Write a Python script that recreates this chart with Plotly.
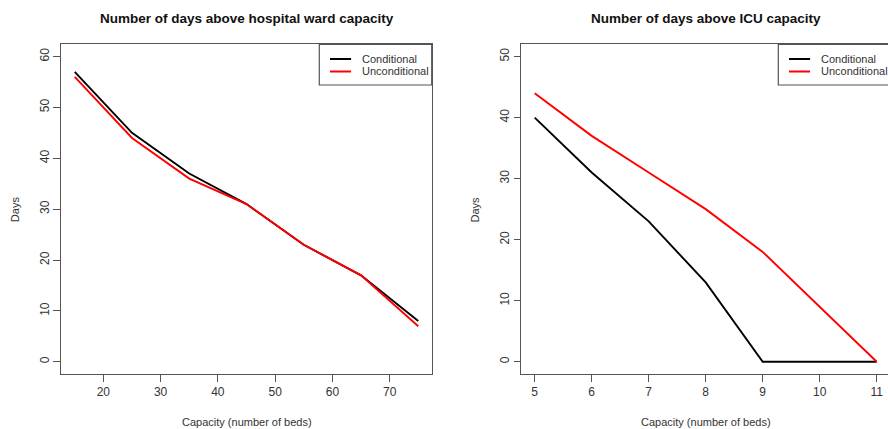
import plotly.graph_objects as go

# Hospital ward: days above capacity versus number of beds
ward_beds = [15, 25, 35, 45, 55, 65, 75]
ward_conditional = [57, 45, 37, 31, 23, 17, 8]
ward_unconditional = [56, 44, 36, 31, 23, 17, 7]

# ICU: days above capacity versus number of beds
icu_beds = [5, 6, 7, 8, 9, 10, 11]
icu_conditional = [40, 31, 23, 13, 0, 0, 0]
icu_unconditional = [44, 37, 31, 25, 18, 9, 0]

ward_xticks = [20, 30, 40, 50, 60, 70]
ward_yticks = [0, 10, 20, 30, 40, 50, 60]
icu_xticks = [5, 6, 7, 8, 9, 10, 11]
icu_yticks = [0, 10, 20, 30, 40, 50]

series_names = ["Conditional", "Unconditional"]
series_colors = ["#000000", "#ff0000"]

W, H = 888, 429
FONT = "Liberation Sans, Arial, sans-serif"
AXIS_COL = "#555555"
TEXT_COL = "#333333"


def px(x):
    return x / W


def py(y):
    return 1 - y / H


fig = go.Figure()

for xs, ys_list, xa, ya in [
    (ward_beds, [ward_conditional, ward_unconditional], "x", "y"),
    (icu_beds, [icu_conditional, icu_unconditional], "x2", "y2"),
]:
    for name, ys, col in zip(series_names, ys_list, series_colors):
        fig.add_trace(go.Scatter(
            x=xs, y=ys, mode="lines", name=name,
            line=dict(color=col, width=1.9),
            xaxis=xa, yaxis=ya, showlegend=False,
        ))

top, bottom = 44.3, 374
ydom = [py(bottom), py(top)]

axis_common = dict(
    showgrid=False, zeroline=False, showline=True, linecolor=AXIS_COL,
    linewidth=1.2, ticks="outside", ticklen=6.5, tickcolor=AXIS_COL,
    tickwidth=1, tickfont=dict(family=FONT, size=12, color=TEXT_COL),
)

fig.update_layout(
    width=W, height=H,
    margin=dict(l=0, r=0, t=0, b=0),
    plot_bgcolor="white", paper_bgcolor="white",
    xaxis=dict(domain=[px(61), px(432)], range=[12.6, 77.4],
               tickvals=ward_xticks, mirror=True, anchor="y", **axis_common),
    yaxis=dict(domain=ydom, range=[-2.4, 62.4], tickvals=ward_yticks,
               tickangle=-90, mirror=True, anchor="x", **axis_common),
    xaxis2=dict(domain=[px(521.3), 1.0], range=[4.765, 11.198],
                tickvals=icu_xticks, mirror=True, anchor="y2", **axis_common),
    yaxis2=dict(domain=ydom, range=[-2, 52], tickvals=icu_yticks,
                tickangle=-90, mirror=False, anchor="x2", **axis_common),
)

annotations = []
shapes = []

# Panel titles and axis titles
panels = [
    ("Number of days above hospital ward capacity", 61, 432),
    ("Number of days above ICU capacity", 521.3, 890),
]
for title, left, right in panels:
    cx = (left + right) / 2
    annotations.append(dict(
        text=f"<b>{title}</b>", x=px(cx), y=py(18), xref="paper", yref="paper",
        showarrow=False, xanchor="center", yanchor="middle",
        font=dict(family=FONT, size=13.5, color="#111111"),
    ))
    annotations.append(dict(
        text="Capacity (number of beds)", x=px(cx), y=py(421.5),
        xref="paper", yref="paper", showarrow=False,
        xanchor="center", yanchor="middle",
        font=dict(family=FONT, size=11, color=TEXT_COL),
    ))
    annotations.append(dict(
        text="Days", x=px(left - 46), y=py((top + bottom) / 2),
        xref="paper", yref="paper", showarrow=False, textangle=-90,
        xanchor="center", yanchor="middle",
        font=dict(family=FONT, size=11, color=TEXT_COL),
    ))

# Legend boxes in the top-right corner of each panel
for box_left, box_right in [(319.3, 431.7), (778.3, 892)]:
    shapes.append(dict(
        type="rect", xref="paper", yref="paper",
        x0=px(box_left), x1=px(box_right), y0=py(85), y1=py(top),
        line=dict(color=AXIS_COL, width=1.2), fillcolor="white", layer="above",
    ))
    for i, (name, col) in enumerate(zip(series_names, series_colors)):
        row_y = 59 + i * 12.5
        shapes.append(dict(
            type="line", xref="paper", yref="paper",
            x0=px(box_left + 10.7), x1=px(box_left + 31.8),
            y0=py(row_y), y1=py(row_y),
            line=dict(color=col, width=2), layer="above",
        ))
        annotations.append(dict(
            text=name, x=px(box_left + 40.5), y=py(row_y),
            xref="paper", yref="paper", showarrow=False,
            xanchor="left", yanchor="middle",
            font=dict(family=FONT, size=11, color=TEXT_COL),
        ))

fig.update_layout(annotations=annotations, shapes=shapes)

fig.write_html("out.html")
